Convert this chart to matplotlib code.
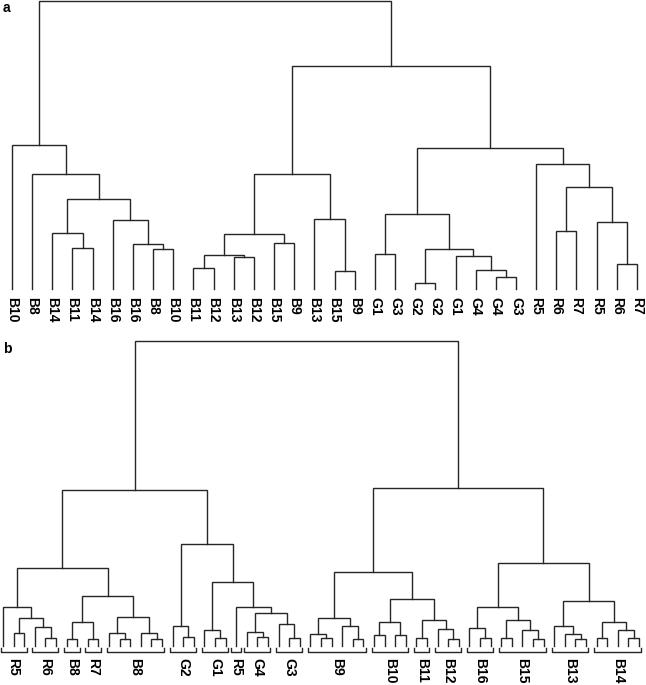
import numpy as np
from matplotlib import pyplot as plt

plt.rcParams['font.family'] = ['Liberation Sans', 'DejaVu Sans']

# ---------------- panel a : leaf labels and merges (left, right, height) ----
labels_a = ['B10', 'B8', 'B14', 'B11', 'B14', 'B16', 'B16', 'B8', 'B10',
            'B11', 'B12', 'B13', 'B12', 'B15', 'B9', 'B13', 'B15', 'B9',
            'G1', 'G3', 'G2', 'G2', 'G1', 'G4', 'G4', 'G3',
            'R5', 'R6', 'R7', 'R5', 'R6', 'R7']

merges_a = [
    ('a1', 3, 4, 41), ('a2', 2, 'a1', 56), ('a3', 7, 8, 40),
    ('a4', 6, 'a3', 45), ('a5', 5, 'a4', 69), ('a6', 'a2', 'a5', 90),
    ('a7', 1, 'a6', 115), ('a8', 0, 'a7', 144),
    ('b1', 9, 10, 21), ('b2', 11, 12, 32), ('b3', 'b1', 'b2', 34),
    ('b4', 13, 14, 46), ('b5', 'b3', 'b4', 55), ('b6', 16, 17, 18),
    ('b7', 15, 'b6', 70), ('b8', 'b5', 'b7', 115),
    ('g1', 18, 19, 35), ('g2', 20, 21, 6), ('g3', 24, 25, 12),
    ('g4', 23, 'g3', 19), ('g5', 22, 'g4', 33), ('g6', 'g2', 'g5', 40),
    ('g7', 'g1', 'g6', 75),
    ('r1', 27, 28, 58), ('r2', 30, 31, 25), ('r3', 29, 'r2', 67),
    ('r4', 'r1', 'r3', 102), ('r5', 26, 'r4', 125),
    ('c1', 'g7', 'r5', 141), ('c2', 'b8', 'c1', 223),
    ('root', 'a8', 'c2', 288),
]

# ---------------- panel b : 61 leaves, labelled by groups -------------------
n_leaves_b = 61
groups_b = [('R5', 0, 2), ('R6', 3, 5), ('B8', 6, 7), ('R7', 8, 9),
            ('B8', 10, 15), ('G2', 16, 18), ('G1', 19, 21), ('R5', 22, 22),
            ('G4', 23, 25), ('G3', 26, 28), ('B9', 29, 34), ('B10', 35, 38),
            ('B11', 39, 40), ('B12', 41, 43), ('B16', 44, 46),
            ('B15', 47, 51), ('B13', 52, 55), ('B14', 56, 60)]

merges_b = [
    ('r12', 1, 2, 13), ('r45', 4, 5, 8), ('r3', 3, 'r45', 19),
    ('rA', 'r12', 'r3', 28), ('rR', 0, 'rA', 39),
    ('p67', 6, 7, 7), ('p89', 8, 9, 7), ('p6', 'p67', 'p89', 24),
    ('q11', 11, 12, 7), ('q10', 10, 'q11', 13), ('q14', 14, 15, 7),
    ('q13', 13, 'q14', 13), ('q', 'q10', 'q13', 29), ('pB', 'p6', 'q', 50),
    ('L1', 'rR', 'pB', 78),
    ('g17', 17, 18, 9), ('g16', 16, 'g17', 20),
    ('g20', 20, 21, 8), ('g19', 19, 'g20', 16),
    ('g24', 24, 25, 9), ('g23', 23, 'g24', 14),
    ('g27', 27, 28, 8), ('g26', 26, 'g27', 22),
    ('g43', 'g23', 'g26', 33), ('g22', 22, 'g43', 39),
    ('g1x', 'g19', 'g22', 64), ('gG', 'g16', 'g1x', 102),
    ('L', 'L1', 'gG', 156),
    ('s30', 30, 31, 8), ('s29', 29, 's30', 12), ('s33', 33, 34, 7),
    ('s32', 32, 's33', 20), ('s9', 's29', 's32', 28),
    ('s35', 35, 36, 11), ('s37', 37, 38, 11), ('s10', 's35', 's37', 24),
    ('s39', 39, 40, 8), ('s42', 42, 43, 7), ('s41', 41, 's42', 17),
    ('s11', 's39', 's41', 26), ('s1012', 's10', 's11', 47),
    ('R1', 's9', 's1012', 74),
    ('t45', 45, 46, 8), ('t44', 44, 't45', 18),
    ('t47', 47, 48, 8), ('t50', 50, 51, 7), ('t49', 49, 't50', 16),
    ('t15', 't47', 't49', 26), ('t16', 't44', 't15', 39),
    ('u54', 54, 55, 7), ('u53', 53, 'u54', 12), ('u52', 52, 'u53', 20),
    ('u56', 56, 57, 8), ('u59', 59, 60, 8), ('u58', 58, 'u59', 16),
    ('u14', 'u56', 'u58', 24), ('u', 'u52', 'u14', 45),
    ('R2', 't16', 'u', 83), ('R', 'R1', 'R2', 158),
    ('root', 'L', 'R', 305),
]


def draw_tree(ax, merges, n, color='#262626', lw=1.0):
    pos = {i: float(i) for i in range(n)}
    hgt = {i: 0.0 for i in range(n)}
    for name, l, r, h in merges:
        xl, xr = pos[l], pos[r]
        ax.plot([xl, xl, xr, xr], [hgt[l], h, h, hgt[r]], color=color,
                lw=lw, solid_joinstyle='miter', clip_on=False)
        pos[name] = (xl + xr) / 2
        hgt[name] = h


W, H = 646, 685
fig = plt.figure(figsize=(W / 100, H / 100), dpi=100)

# panel a : leaves 20.16 px apart, base at y=289 px
sp_a = 20.16
ax_a = fig.add_axes([0, (H - 289) / H, 1, 288 / H])
ax_a.set_xlim(-12 / sp_a, (W - 12) / sp_a)
ax_a.set_ylim(0, 288)
ax_a.axis('off')
draw_tree(ax_a, merges_a, len(labels_a))
for i, lab in enumerate(labels_a):
    ax_a.text(i, -8, lab, rotation=270, ha='center', va='top', fontsize=10,
              fontweight='bold')

# panel b : leaves 10.6 px apart, base at y=646 px
sp_b = 10.6
ax_b = fig.add_axes([0, (H - 646) / H, 1, 305 / H])
ax_b.set_xlim(-3 / sp_b, (W - 3) / sp_b)
ax_b.set_ylim(0, 305)
ax_b.axis('off')
draw_tree(ax_b, merges_b, n_leaves_b)
for lab, i0, i1 in groups_b:
    pad = 0.45 if i0 == i1 else 0.22
    x0, x1 = i0 - pad, i1 + pad
    ax_b.plot([x0, x0, x1, x1], [-1.5, -5.5, -5.5, -1.5], color='#262626',
              lw=1.0, clip_on=False)
    ax_b.text((i0 + i1) / 2, -12, lab, rotation=270, ha='center', va='top',
              fontsize=10, fontweight='bold')

fig.text(3 / W, 1 - 8 / H, 'a', fontsize=10, fontweight='bold', va='center')
fig.text(3 / W, 1 - 349 / H, 'b', fontsize=10, fontweight='bold', va='center')

fig.savefig('out.png', dpi=100)
